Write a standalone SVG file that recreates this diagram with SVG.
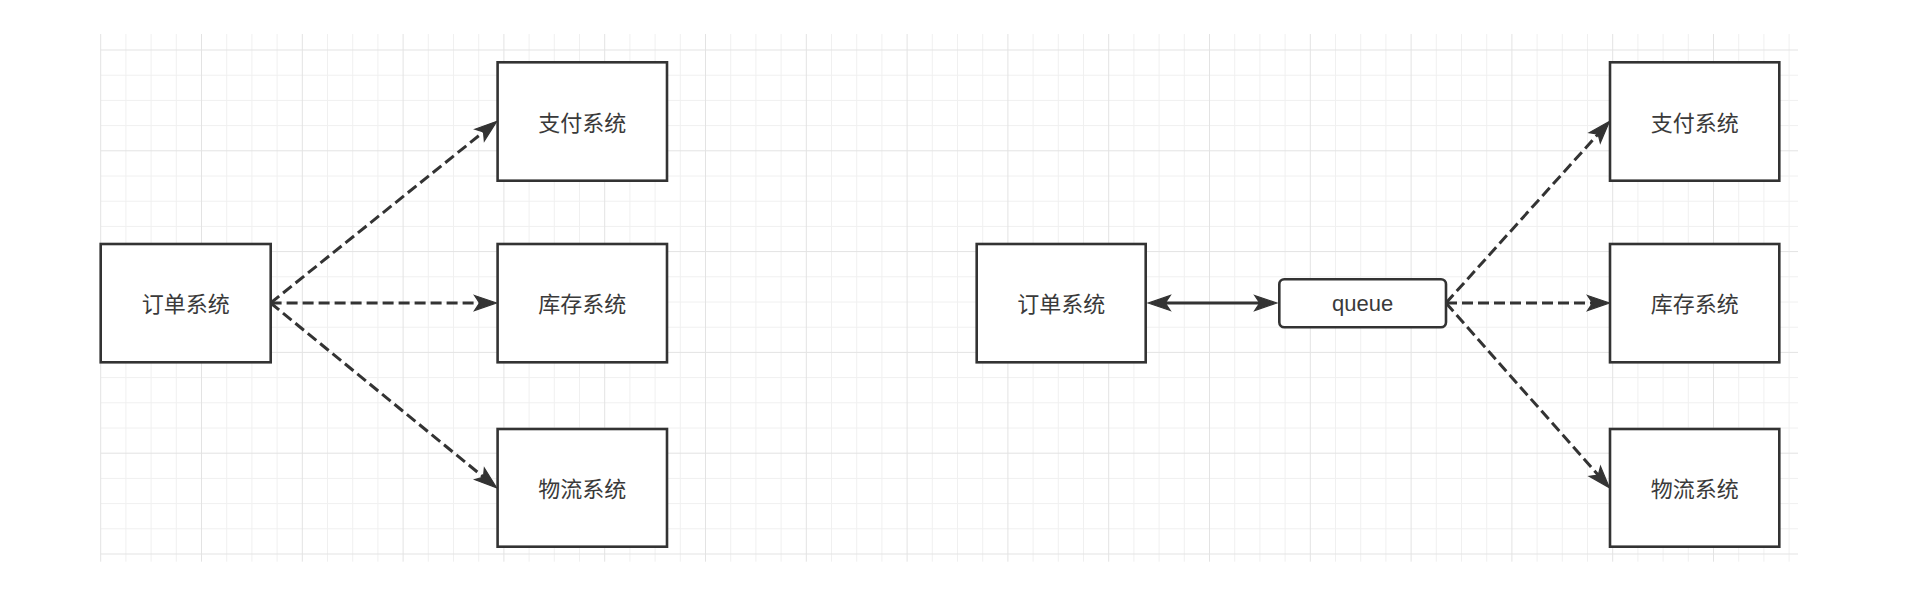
<svg xmlns="http://www.w3.org/2000/svg" width="1906" height="608" viewBox="0 0 1906 608">
<style>
.gmin{stroke:#f0f0f0;stroke-width:1;fill:none}
.gmaj{stroke:#e3e3e3;stroke-width:1;fill:none}
.box{fill:#ffffff;stroke:#333333;stroke-width:2.6}
.cjk{font-family:"Noto Sans CJK SC","Liberation Sans",sans-serif;font-size:22px;fill:#3a3a3a;text-anchor:middle}
.lat{font-family:"Liberation Sans",Arial,sans-serif;font-size:22px;fill:#3a3a3a;text-anchor:middle}
.edge{stroke:#333333;stroke-width:3;fill:none}
.dash{stroke-dasharray:11 5}
</style>
<defs>
<marker id="arrow" markerUnits="userSpaceOnUse" markerWidth="26" markerHeight="20" viewBox="0 0 26 20" refX="13" refY="10" orient="auto-start-reverse">
<path d="M2,2.5 L24,10 L2,17.5 L7,10 Z" fill="#333333" stroke="#333333" stroke-width="1.2" stroke-linejoin="miter"/>
</marker>
</defs>
<rect x="0" y="0" width="1906" height="608" fill="#ffffff"/>
<g id="grid">
<path class="gmin" d="M125.9 34V561.7M151.1 34V561.7M176.3 34V561.7M226.7 34V561.7M251.9 34V561.7M277.1 34V561.7M327.5 34V561.7M352.7 34V561.7M377.9 34V561.7M428.3 34V561.7M453.5 34V561.7M478.7 34V561.7M529.1 34V561.7M554.3 34V561.7M579.5 34V561.7M629.9 34V561.7M655.1 34V561.7M680.3 34V561.7M730.7 34V561.7M755.9 34V561.7M781.1 34V561.7M831.5 34V561.7M856.7 34V561.7M881.9 34V561.7M932.3 34V561.7M957.5 34V561.7M982.7 34V561.7M1033.1 34V561.7M1058.3 34V561.7M1083.5 34V561.7M1133.9 34V561.7M1159.1 34V561.7M1184.3 34V561.7M1234.7 34V561.7M1259.9 34V561.7M1285.1 34V561.7M1335.5 34V561.7M1360.7 34V561.7M1385.9 34V561.7M1436.3 34V561.7M1461.5 34V561.7M1486.7 34V561.7M1537.1 34V561.7M1562.3 34V561.7M1587.5 34V561.7M1637.9 34V561.7M1663.1 34V561.7M1688.3 34V561.7M1738.7 34V561.7M1763.9 34V561.7M1789.1 34V561.7M100.7 75.2H1798M100.7 100.4H1798M100.7 125.6H1798M100.7 176H1798M100.7 201.2H1798M100.7 226.4H1798M100.7 276.8H1798M100.7 302H1798M100.7 327.2H1798M100.7 377.6H1798M100.7 402.8H1798M100.7 428H1798M100.7 478.4H1798M100.7 503.6H1798M100.7 528.8H1798"/>
<path class="gmaj" d="M100.7 34V561.7M201.5 34V561.7M302.3 34V561.7M403.1 34V561.7M503.9 34V561.7M604.7 34V561.7M705.5 34V561.7M806.3 34V561.7M907.1 34V561.7M1007.9 34V561.7M1108.7 34V561.7M1209.5 34V561.7M1310.3 34V561.7M1411.1 34V561.7M1511.9 34V561.7M1612.7 34V561.7M1713.5 34V561.7M100.7 50H1798M100.7 150.8H1798M100.7 251.6H1798M100.7 352.4H1798M100.7 453.2H1798M100.7 554H1798"/>
</g>
<g id="connectors">
<path class="edge dash" d="M270.6 303L488.2 128.2" marker-end="url(#arrow)"/>
<path class="edge dash" d="M270.6 303L485.5 303" marker-end="url(#arrow)"/>
<path class="edge dash" d="M270.6 303L488.1 480.8" marker-end="url(#arrow)"/>
<path class="edge" d="M1159.3 303L1265.7 303" marker-start="url(#arrow)" marker-end="url(#arrow)"/>
<path class="edge dash" d="M1446 303L1602.1 129.6" marker-end="url(#arrow)"/>
<path class="edge dash" d="M1446 303L1598.5 303" marker-end="url(#arrow)"/>
<path class="edge dash" d="M1446 303L1602.2 479.6" marker-end="url(#arrow)"/>
</g>
<g id="order-left">
<rect class="box" x="100.7" y="244" width="170" height="118.3"/>
<text class="cjk" x="185.7" y="312">订单系统</text>
</g>
<g id="pay-left">
<rect class="box" x="497.6" y="62.3" width="169.4" height="118.4"/>
<text class="cjk" x="582.3" y="130.5">支付系统</text>
</g>
<g id="stock-left">
<rect class="box" x="497.6" y="244" width="169.4" height="118.3"/>
<text class="cjk" x="582.3" y="312">库存系统</text>
</g>
<g id="logistics-left">
<rect class="box" x="497.6" y="429" width="169.4" height="117.7"/>
<text class="cjk" x="582.3" y="496.8">物流系统</text>
</g>
<g id="order-right">
<rect class="box" x="976.7" y="244" width="169" height="118.3"/>
<text class="cjk" x="1061.2" y="312">订单系统</text>
</g>
<g id="queue">
<rect class="box" x="1279.3" y="279.3" width="166.7" height="48" rx="5" ry="5"/>
<text class="lat" x="1362.7" y="310.5">queue</text>
</g>
<g id="pay-right">
<rect class="box" x="1610" y="62.3" width="169.3" height="118.4"/>
<text class="cjk" x="1694.7" y="130.5">支付系统</text>
</g>
<g id="stock-right">
<rect class="box" x="1610" y="244" width="169.3" height="118.3"/>
<text class="cjk" x="1694.7" y="312">库存系统</text>
</g>
<g id="logistics-right">
<rect class="box" x="1610" y="429" width="169.3" height="117.7"/>
<text class="cjk" x="1694.7" y="496.8">物流系统</text>
</g>
</svg>
